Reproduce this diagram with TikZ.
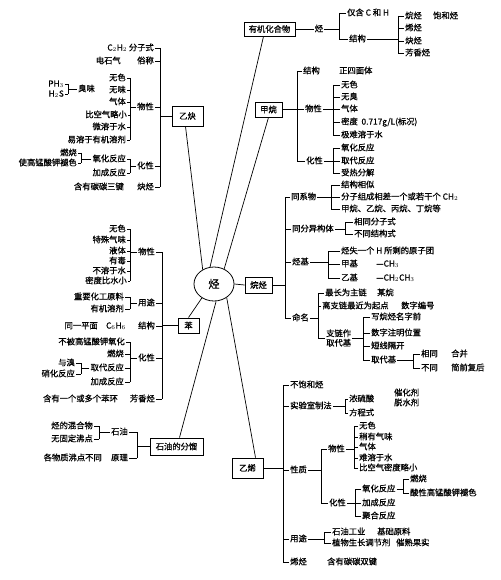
\documentclass[tikz,border=0pt]{standalone}
\usepackage{fontspec}
\setmainfont{Noto Sans CJK SC}[FakeBold=0.7]
\usetikzlibrary{shapes.geometric}
\newcommand\myfs{\fontsize{8.3}{9.5}\selectfont}
\newcommand\WN[4]{\node[t,anchor=west] (#1) at (#2,#3) {#4};}
\newcommand\EN[4]{\node[t,anchor=east] (#1) at (#2,#3) {#4};}
\newcommand\tk[2]{\draw[ln] (#1) -- (#1 -| #2);}
\newcommand\vb[3]{\draw[ln] (#1 |- #2) -- (#1 |- #3);}
\begin{document}
\begin{tikzpicture}[x=1pt,y=-1pt,
  t/.style={inner sep=1pt,font=\myfs,text height=6.6pt,text depth=1.4pt},
  box/.style={draw,line width=0.9pt,inner sep=0pt,font=\myfs},
  ln/.style={line width=0.7pt},
  spoke/.style={line width=0.7pt}]
\useasboundingbox (0,0) rectangle (500,580);

% ===== centre =====
\node[draw,ellipse,line width=0.8pt,minimum width=40pt,minimum height=34pt,inner sep=0pt,font=\fontsize{11}{12}\selectfont] (H) at (214,284) {烃};
\node[box,minimum width=51pt,minimum height=14pt] (yj) at (269.5,29) {有机化合物};
\node[box,minimum width=27pt,minimum height=15pt] (jw) at (268.5,109.5) {甲烷};
\node[box,minimum width=31pt,minimum height=20pt] (yq) at (187.5,116) {乙炔};
\node[box,minimum width=27pt,minimum height=16pt] (wt) at (258.5,285) {烷烃};
\node[box,minimum width=21pt,minimum height=15pt] (bz) at (188.5,325.5) {苯};
\node[box,minimum width=53pt,minimum height=17pt] (sy) at (176.5,446.5) {石油的分馏};
\node[box,minimum width=31pt,minimum height=20pt] (yx) at (247.5,468) {乙烯};

\draw[spoke] ([xshift=-6pt]yj.south) -- (H.103);
\draw[spoke] (jw.south) -- (H.56);
\draw[spoke] ([xshift=-2pt]yq.south) -- (H.128);
\draw[spoke] (bz.north) -- (H.229);
\draw[spoke] ([xshift=3pt]sy.north) -- (H.277);
\draw[spoke] ([xshift=8pt]yx.north) -- (H.313);
\draw[spoke] (H.east) -- (wt.west);

% ===== 有机化合物 =====
\node[t] (o1) at (319,29) {烃};
\draw[ln] (yj.east) -- (o1.west);
\coordinate (oB) at (339,0);
\WN{o2}{346}{13}{仅含 C 和 H}
\WN{o3}{348}{39}{结构}
\tk{o1.east}{oB}\tk{o2.west}{oB}\tk{o3.west}{oB}
\vb{oB}{o2}{o3}
\coordinate (oB2) at (398,0);
\WN{o4}{404}{16}{烷烃}
\WN{o5}{404}{28}{烯烃}
\WN{o6}{404}{41}{炔烃}
\WN{o7}{404}{53}{芳香烃}
\WN{o8}{432}{16}{饱和烃}
\foreach \n in {o4,o5,o6,o7} {\tk{\n.west}{oB2}}
\vb{oB2}{o4}{o7}
\tk{o3.east}{oB2}

% ===== 乙炔 =====
\coordinate (yqM) at (160,0);
\EN{q1}{155}{48}{C$_2$H$_2$ 分子式}
\EN{q2}{155}{61}{俗称}
\EN{q2b}{122}{61}{电石气}
\EN{q3}{155}{107}{物性}
\EN{q4}{155}{166}{化性}
\EN{q5}{155}{187}{炔烃}
\EN{q5b}{125}{187}{含有碳碳三键}
\foreach \n in {q1,q2,q3,q4,q5} {\tk{\n.east}{yqM}}
\vb{yqM}{q1}{q5}
\tk{yq.west}{yqM}
\coordinate (qB1) at (130,0);
\EN{p1}{127}{78}{无色}
\EN{p2}{127}{90}{无味}
\EN{p3}{127}{102}{气体}
\EN{p4}{128}{115}{比空气略小}
\EN{p5}{127}{127}{微溶于水}
\EN{p6}{127}{140}{易溶于有机溶剂}
\foreach \n in {p1,p2,p3,p4,p5,p6} {\tk{\n.east}{qB1}}
\vb{qB1}{p1}{p6}
\tk{q3.west}{qB1}
\coordinate (qB2) at (68,0);
\EN{r1}{65}{84}{PH$_3$}
\EN{r2}{65}{94}{H$_2$S}
\WN{r3}{77}{89}{臭味}
\tk{r1.east}{qB2}\tk{r2.east}{qB2}\tk{r3.west}{qB2}
\vb{qB2}{r1}{r2}
\coordinate (qB3) at (130,0);
\EN{c1}{127}{159}{氧化反应}
\EN{c2}{127}{173}{加成反应}
\tk{c1.east}{qB3}\tk{c2.east}{qB3}
\vb{qB3}{c1}{c2}
\tk{q4.west}{qB3}
\coordinate (qB4) at (81,0);
\EN{d1}{78}{153}{燃烧}
\EN{d2}{78}{163}{使高锰酸钾褪色}
\tk{d1.east}{qB4}\tk{d2.east}{qB4}
\vb{qB4}{d1}{d2}
\tk{c1.west}{qB4}

% ===== 甲烷 =====
\coordinate (jM) at (297,0);
\WN{j1}{302}{71}{结构}
\WN{j2}{304}{109}{物性}
\WN{j3}{305}{161}{化性}
\WN{j4}{338}{71}{正四面体}
\foreach \n in {j1,j2,j3} {\tk{\n.west}{jM}}
\vb{jM}{j1}{j3}
\tk{jw.east}{jM}
\coordinate (jB1) at (333,0);
\WN{k1}{340}{85}{无色}
\WN{k2}{340}{97}{无臭}
\WN{k3}{340}{109}{气体}
\WN{k4}{340}{122}{密度\ \ 0.717g/L(标况)}
\WN{k5}{340}{135}{极难溶于水}
\foreach \n in {k1,k2,k3,k4,k5} {\tk{\n.west}{jB1}}
\vb{jB1}{k1}{k5}
\tk{j2.east}{jB1}
\coordinate (jB2) at (333,0);
\WN{l1}{340}{148}{氧化反应}
\WN{l2}{340}{161}{取代反应}
\WN{l3}{340}{173}{受热分解}
\foreach \n in {l1,l2,l3} {\tk{\n.west}{jB2}}
\vb{jB2}{l1}{l3}
\tk{j3.east}{jB2}

% ===== 烷烃 =====
\coordinate (wM) at (285,0);
\WN{w1}{290}{197}{同系物}
\WN{w2}{291}{229}{同分异构体}
\WN{w3}{291}{262}{烃基}
\WN{w4}{291}{318}{命名}
\foreach \n in {w1,w2,w3,w4} {\tk{\n.west}{wM}}
\vb{wM}{w1}{w4}
\tk{wt.east}{wM}
\coordinate (wB1) at (331,0);
\WN{x1}{340}{185}{结构相似}
\WN{x2}{340}{197}{分子组成相差一个或若干个 CH$_2$}
\WN{x3}{340}{209}{甲烷、乙烷、丙烷、丁烷等}
\foreach \n in {x1,x2,x3} {\tk{\n.west}{wB1}}
\vb{wB1}{x1}{x3}
\tk{w1.east}{wB1}
\coordinate (wB2) at (345,0);
\WN{y1}{353}{222}{相同分子式}
\WN{y2}{353}{234}{不同结构式}
\tk{y1.west}{wB2}\tk{y2.west}{wB2}
\vb{wB2}{y1}{y2}
\tk{w2.east}{wB2}
\coordinate (wB3) at (328,0);
\WN{z1}{340}{251}{烃失一个 H 所剩的原子团}
\WN{z2}{340}{264}{甲基}
\WN{z3}{340}{278}{乙基}
\WN{z4}{375}{264}{—CH$_3$}
\WN{z5}{375}{278}{—CH$_2$CH$_3$}
\foreach \n in {z1,z2,z3} {\tk{\n.west}{wB3}}
\vb{wB3}{z1}{z3}
\tk{w3.east}{wB3}
\coordinate (wB4) at (318,0);
\WN{m1}{324}{293}{最长为主链}
\WN{m2}{321}{306}{离支链最近为起点}
\node[inner sep=1pt,font=\myfs,align=center,anchor=west] (m3) at (325,338) {支链作\\取代基};
\WN{m4}{376}{293}{某烷}
\WN{m5}{400}{306}{数字编号}
\foreach \n in {m1,m2,m3} {\tk{\n.west}{wB4}}
\vb{wB4}{m1}{m3}
\tk{w4.east}{wB4}
\coordinate (wB5) at (363,0);
\WN{n1}{370}{317}{写烷烃名字前}
\WN{n2}{370}{333}{数字注明位置}
\WN{n3}{370}{346}{短线隔开}
\WN{n4}{370}{360}{取代基}
\foreach \n in {n1,n2,n3,n4} {\tk{\n.west}{wB5}}
\vb{wB5}{n1}{n4}
\tk{m3.east}{wB5}
\coordinate (wB6) at (413,0);
\WN{v1}{420}{354}{相同}
\WN{v2}{420}{368}{不同}
\WN{v3}{450}{354}{合并}
\WN{v4}{450}{368}{简前复后}
\tk{v1.west}{wB6}\tk{v2.west}{wB6}
\vb{wB6}{v1}{v2}
\tk{n4.east}{wB6}

% ===== 苯 =====
\coordinate (bM) at (162,0);
\EN{b1}{156}{252}{物性}
\EN{b2}{156}{303}{用途}
\EN{b3}{156}{326}{结构}
\EN{b4}{156}{358}{化性}
\EN{b5}{156}{399}{芳香烃}
\EN{b6}{99}{326}{同一平面}
\EN{b7}{127}{326}{C$_6$H$_6$}
\EN{b8}{119}{399}{含有一个或多个苯环}
\foreach \n in {b1,b2,b3,b4,b5} {\tk{\n.east}{bM}}
\vb{bM}{b1}{b5}
\tk{bz.west}{bM}
\coordinate (bB1) at (130,0);
\EN{e1}{127}{229}{无色}
\EN{e2}{127}{240}{特殊气味}
\EN{e3}{127}{251}{液体}
\EN{e4}{127}{261}{有毒}
\EN{e5}{127}{271}{不溶于水}
\EN{e6}{128}{281}{密度比水小}
\foreach \n in {e1,e2,e3,e4,e5,e6} {\tk{\n.east}{bB1}}
\vb{bB1}{e1}{e6}
\tk{b1.west}{bB1}
\coordinate (bB2) at (130,0);
\EN{f1}{125}{297}{重要化工原料}
\EN{f2}{125}{309}{有机溶剂}
\tk{f1.east}{bB2}\tk{f2.east}{bB2}
\vb{bB2}{f1}{f2}
\tk{b2.west}{bB2}
\coordinate (bB3) at (130,0);
\EN{g1}{126}{342}{不被高锰酸钾氧化}
\EN{g2}{125}{354}{燃烧}
\EN{g3}{125}{368}{取代反应}
\EN{g4}{125}{382}{加成反应}
\foreach \n in {g1,g2,g3,g4} {\tk{\n.east}{bB3}}
\vb{bB3}{g1}{g4}
\tk{b4.west}{bB3}
\coordinate (bB4) at (81,0);
\EN{h1}{76}{363}{与溴}
\EN{h2}{76}{374}{硝化反应}
\tk{h1.east}{bB4}\tk{h2.east}{bB4}
\vb{bB4}{h1}{h2}
\tk{g3.west}{bB4}

% ===== 石油的分馏 =====
\coordinate (sB) at (137,0);
\EN{s1}{129}{432}{石油}
\EN{s2}{129}{458}{原理}
\tk{s1.east}{sB}\tk{s2.east}{sB}
\vb{sB}{s1}{s2}
\tk{sy.west}{sB}
\coordinate (sB2) at (99,0);
\EN{s3}{94}{426}{烃的混合物}
\EN{s4}{94}{439}{无固定沸点}
\tk{s3.east}{sB2}\tk{s4.east}{sB2}
\vb{sB2}{s3}{s4}
\tk{s1.west}{sB2}
\EN{s5}{103}{458}{各物质沸点不同}

% ===== 乙烯 =====
\coordinate (xM) at (283,0);
\WN{u1}{289}{385}{不饱和烃}
\WN{u2}{289}{406}{实验室制法}
\WN{u3}{289}{470}{性质}
\WN{u4}{289}{539}{用途}
\WN{u5}{289}{562}{烯烃}
\WN{u0}{326}{562}{含有碳碳双键}
\foreach \n in {u1,u2,u3,u4,u5} {\tk{\n.west}{xM}}
\vb{xM}{u1}{u5}
\tk{yx.east}{xM}
\coordinate (xB1) at (345,0);
\WN{u6}{348}{399}{浓硫酸}
\WN{u7}{348}{413}{方程式}
\WN{u6a}{393}{393}{催化剂}
\WN{u6b}{393}{403}{脱水剂}
\tk{u6.west}{xB1}\tk{u7.west}{xB1}
\vb{xB1}{u6}{u7}
\tk{u2.east}{xB1}
\coordinate (xB2) at (321,0);
\WN{u8}{327}{449}{物性}
\WN{u9}{328}{503}{化性}
\tk{u8.west}{xB2}\tk{u9.west}{xB2}
\vb{xB2}{u8}{u9}
\tk{u3.east}{xB2}
\coordinate (xB3) at (354,0);
\WN{i1}{358}{426}{无色}
\WN{i2}{358}{437}{稍有气味}
\WN{i3}{358}{447}{气体}
\WN{i4}{358}{458}{难溶于水}
\WN{i5}{358}{468}{比空气密度略小}
\foreach \n in {i1,i2,i3,i4,i5} {\tk{\n.west}{xB3}}
\vb{xB3}{i1}{i5}
\tk{u8.east}{xB3}
\coordinate (xB4) at (355,0);
\WN{k6}{361}{489}{氧化反应}
\WN{k7}{361}{503}{加成反应}
\WN{k8}{361}{516}{聚合反应}
\foreach \n in {k6,k7,k8} {\tk{\n.west}{xB4}}
\vb{xB4}{k6}{k8}
\tk{u9.east}{xB4}
\coordinate (xB5) at (403,0);
\WN{k9}{409}{479}{燃烧}
\WN{k10}{409}{493}{酸性高锰酸钾褪色}
\tk{k9.west}{xB5}\tk{k10.west}{xB5}
\vb{xB5}{k9}{k10}
\tk{k6.east}{xB5}
\coordinate (xB6) at (324,0);
\WN{q6}{331}{532}{石油工业}
\WN{q7}{331}{543}{植物生长调节剂}
\WN{q8}{376}{532}{基础原料}
\WN{q9}{395}{543}{催熟果实}
\tk{q6.west}{xB6}\tk{q7.west}{xB6}
\vb{xB6}{q6}{q7}
\tk{u4.east}{xB6}
\end{tikzpicture}
\end{document}
